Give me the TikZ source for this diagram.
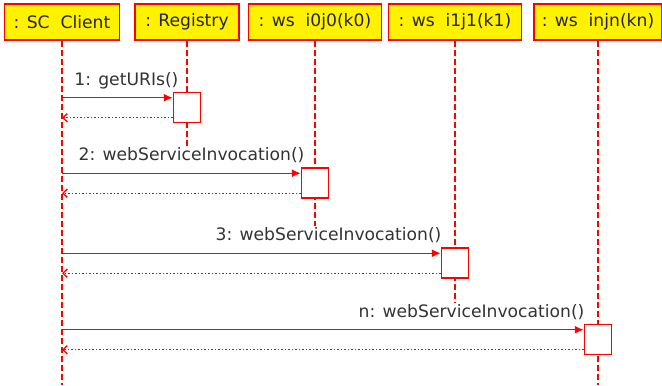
\documentclass[tikz,border=0pt]{standalone}
\usepackage{fontspec}
\setmainfont{DejaVu Sans}
\usetikzlibrary{arrows.meta}
\tikzset{
  object/.style={draw=red, fill=yellow, line width=0.9pt, minimum height=21.6pt,
    inner sep=0pt, text=black!85, font=\fontsize{10.3}{12}\selectfont},
  lifeline/.style={red, line width=0.65pt, dash pattern=on 3.6pt off 1.8pt},
  activation/.style={draw=red, fill=white, line width=0.9pt, minimum width=16.2pt,
    minimum height=18pt, inner sep=0pt},
  call/.style={red, line width=0.8pt, -{Latex[length=5.4pt,width=4.8pt]}},
  reply/.style={red, line width=0.8pt, dash pattern=on 0.9pt off 1.2pt,
    -{Straight Barb[length=2.6pt,width=5pt]}},
  msg/.style={text=black!80, font=\fontsize{10.3}{12}\selectfont, inner sep=0pt}
}
\begin{document}
\begin{tikzpicture}[x=0.6pt,y=-0.6pt]
  \useasboundingbox (0,0) rectangle (662,385);
  % objects
  \node[object, minimum width=69pt] (client) at (62,22) {: SC~ Client};
  \node[object, minimum width=62.4pt] (reg) at (187,22) {: Registry};
  \node[object, minimum width=79.8pt] (ws0) at (315,22) {: ws~ i0j0(k0)};
  \node[object, minimum width=79.8pt] (ws1) at (455,22) {: ws~ i1j1(k1)};
  \node[object, minimum width=76.8pt] (wsn) at (598,22) {: ws~ injn(kn)};
  % lifelines
  \draw[lifeline] (client) -- (client |- 0,385);
  \draw[lifeline] (reg) -- (reg |- 0,148);
  \draw[lifeline] (ws0) -- (ws0 |- 0,226);
  \draw[lifeline] (ws1) -- (ws1 |- 0,303);
  \draw[lifeline] (wsn) -- (wsn |- 0,385);
  % activations
  \node[activation] (act1) at (187,107.5) {};
  \node[activation] (act2) at (315,183) {};
  \node[activation] (act3) at (455,263) {};
  \node[activation] (act4) at (598,339.5) {};
  % messages
  \foreach \a/\dx/\txt in {1/3.6/1: getURIs(), 2/2.4/2: webServiceInvocation(),
      3/0.6/3: webServiceInvocation(), 4/0.6/n: webServiceInvocation()} {
    \coordinate (m\a) at ([yshift=-3.6pt]act\a.north west);
    \coordinate (r\a) at ([yshift=3.3pt]act\a.south west);
    \draw[call] (m\a -| client) -- (m\a);
    \node[msg, anchor=base east] (l\a) at ([xshift=\dx pt,yshift=7.6pt]m\a) {\txt};
    \draw[reply] (r\a) -- (r\a -| client);
  }
\end{tikzpicture}
\end{document}
